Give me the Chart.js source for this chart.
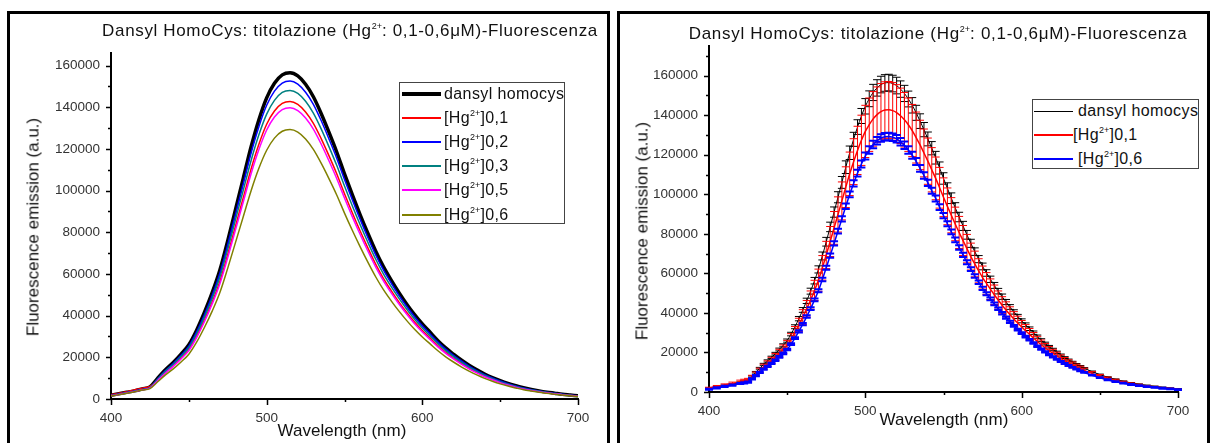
<!DOCTYPE html>
<html><head><meta charset="utf-8">
<script src="https://cdn.jsdelivr.net/npm/chart.js@4.4.1/dist/chart.umd.min.js"></script>
<style>
html,body{margin:0;padding:0;background:#fff;width:1210px;height:443px;overflow:hidden;position:relative;font-family:'Liberation Sans',Arial,sans-serif;}
canvas{position:absolute;left:0;top:0;}
.frame{position:absolute;border:3px solid #000;box-sizing:border-box;}
.t{position:absolute;white-space:nowrap;color:#111;line-height:1;}
.sup{font-size:9px;position:relative;top:-0.75em;letter-spacing:0;}
.leg{position:absolute;border:1px solid #444;background:#fff;box-sizing:border-box;}
.row{position:absolute;white-space:nowrap;font-size:16px;letter-spacing:0.4px;line-height:20px;height:20px;color:#111;}
.sample{position:absolute;}
</style></head>
<body>
<div class="frame" style="left:7px;top:11px;width:603px;height:445px;"></div>
<div class="frame" style="left:617px;top:11px;width:593px;height:445px;"></div>
<canvas id="c1" width="1210" height="443"></canvas>
<canvas id="c2" width="1210" height="443"></canvas>
<div id="overlay"></div>
<script>
// ---------- DATA: left panel (5 nm) ----------
const wavelengths = [400,405,410,415,420,425,430,435,440,445,450,455,460,465,470,475,480,485,490,495,500,505,510,515,520,525,530,535,540,545,550,555,560,565,570,575,580,585,590,595,600,605,610,615,620,625,630,635,640,645,650,655,660,665,670,675,680,685,690,695,700];
const dansyl = [1800,2500,3200,3900,4800,5800, 10000,14000,17500,21500,26000,33000,41500,51000,62000,76000, 91000,106000,121000,134000,144500,151500,155500,156500,155000,151000, 145000,137000,128000,118500,108000,98000,88500,79500,71000,63500, 57000,51000,45500,40500,36000,32000,28000,24500,21500,18700, 16200,14000,12000,10300,8800, 7500,6400,5400,4600,3900,3300,2800,2300,1900,1500];
const hg01 = [2000,2800,3500,4300,5200,6000, 9100,12750,15950,19600,23700,30100,37850,46500,56550,69300, 83000,96650,110350,122200,131800,138150,141800,142750,141350,137700, 132250,124950,116750,108050,98500,89400,80700,72500,64750,57900, 52000,46500,41500,36950,32850,29200,25550,22350,19600,17050, 14750,12750,10950,9400,8050, 6850,5850,4950,4200,3550,3000,2550,2100,1750,1350];
const hg02 = [1700,2400,3100,3800,4600,5500, 9750,13650,17050,20950,25350,32200,40450,49700,60450,74100, 88700,103350,118000,130650,140900,147700,151600,152600,151100,147200, 141400,133600,124800,115550,105300,95550,86300,77500,69200,61900, 55600,49700,44350,39500,35100,31200,27300,23900,20950,18250, 15800,13650,11700,10050,8600, 7300,6250,5250,4500,3800,3200,2750,2250,1850,1450];
const hg03 = [1600,2300,3000,3700,4500,5400, 9450,13250,16550,20350,24600,31200,39250,48250,58650,71900, 86100,100300,114450,126750,136700,143300,147100,148050,146650,142850, 137150,129600,121100,112100,102150,92700,83700,75200,67150,60050, 53900,48250,43050,38300,34050,30250,26500,23200,20350,17700, 15300,13250,11350,9750,8350, 7100,6050,5100,4350,3700,3100,2650,2200,1800,1400];
const hg05 = [1500,2200,2900,3600,4400,5200, 8900,12500,15650,19200,23200,29450,37050,45550,55350,67850, 81250,94650,108050,119650,129050,135300,138850,139750,138400,134850, 129500,122350,114300,105800,96450,87500,79050,71000,63400,56700, 50900,45550,40650,36150,32150,28550,25000,21900,19200,16700, 14450,12500,10700,9200,7850, 6700,5700,4800,4100,3500,2950,2500,2050,1700,1350];
const hg06 = [1400,2100,2800,3500,4300,5000, 8250,11550,14450,17750,21500,27250,34300,42150,51200,62800, 75150,87550,99950,110700,119350,125150,128450,129250,128050,124750, 119750,113150,105750,97900,89200,80950,73100,65650,58650,52450, 47100,42150,37600,33450,29750,26450,23150,20250,17750,15450, 13400,11550,9900,8500,7250, 6200,5300,4450,3800,3200,2750,2300,1900,1550,1250];

// ---------- DATA: right panel (mean ± error) ----------
const wavelengthsR = [400,405,410,415,
 420,422.5,425,427.5,430,432.5,435,437.5,440,442.5,
 445,447.5,450,452.5,455,457.5,460,462.5,465,467.5,
 470,472.5,475,477.5,480,482.5,485,487.5,490,492.5,
 495,497.5,500,502.5,505,507.5,510,512.5,515,517.5,
 520,522.5,525,527.5,530,532.5,535,537.5,540,542.5,
 545,547.5,550,552.5,555,557.5,560,562.5,565,567.5,
 570,572.5,575,577.5,580,582.5,585,587.5,590,592.5,
 595,597.5,600,602.5,605,607.5,610,612.5,615,617.5,
 620,622.5,625,627.5,630,632.5,635,637.5,640,
 645,650,655,660,665,670,675,680,685,690,695,700];
const dansylR = [1800,2500,3200,3900,
 4800,5300,5800,7800,10000,12000,14000,15700,17500,19400,
 21500,23600,26000,29300,33000,37100,41500,46100,51000,56300,
 62000,68800,76000,83500,91000,98500,106000,113700,121000,127800,
 134000,139600,144500,148300,151500,153800,155500,156300,156500,156000,
 155000,153200,151000,148200,145000,141200,137000,132700,128000,123300,
 118500,113300,108000,103000,98000,93200,88500,84000,79500,75200,
 71000,67200,63500,60200,57000,53900,51000,48200,45500,43000,
 40500,38200,36000,34000,32000,30000,28000,26200,24500,22900,
 21500,20100,18700,17400,16200,15100,14000,13000,12000,
 10300,8800,7500,6400,5400,4600,3900,3300,2800,2300,1900,1500];
const hg01R = [2000,2800,3500,4300,
 5200,5600,6000,7500,9100,10900,12750,14300,15950,17700,
 19600,21600,23700,26800,30100,33900,37850,42100,46500,51400,
 56550,62800,69300,76100,83000,89800,96650,103600,110350,116500,
 122200,127300,131800,135200,138150,140300,141800,142600,142750,142300,
 141350,139700,137700,135200,132250,128700,124950,120900,116750,112400,
 108050,103300,98500,93900,89400,85000,80700,76600,72500,68500,
 64750,61300,57900,54900,52000,49200,46500,43900,41500,39200,
 36950,34850,32850,31000,29200,27350,25550,23900,22350,20900,
 19600,18300,17050,15850,14750,13750,12750,11850,10950,
 9400,8050,6850,5850,4950,4200,3550,3000,2550,2100,1750,1350];
const hg06R = [1400,2100,2800,3500,
 4300,4650,5000,6600,8250,9900,11550,13000,14450,16050,
 17750,19550,21500,24250,27250,30700,34300,38150,42150,46600,
 51200,56900,62800,69000,75150,81400,87550,93900,99950,105500,
 110700,115300,119350,122400,125150,127050,128450,129150,129250,128900,
 128050,126550,124750,122400,119750,116600,113150,109500,105750,101800,
 97900,93500,89200,85050,80950,76950,73100,69350,65650,62100,
 58650,55500,52450,49700,47100,44550,42150,39800,37600,35500,
 33450,31550,29750,28050,26450,24750,23150,21650,20250,18950,
 17750,16550,15450,14400,13400,12450,11550,10700,9900,
 8500,7250,6200,5300,4450,3800,3200,2750,2300,1900,1550,1250];
const errDansylR = [300,300,300,300,
 300,300,300,350,400,450,500,550,600,650,
 700,750,800,900,1000,1100,1200,1350,1500,1650,
 1800,2000,2200,2400,2600,2800,3000,3200,3400,3550,
 3700,3800,3900,4000,4100,4150,4200,4200,4200,4200,
 4200,4150,4100,4000,3900,3800,3700,3600,3500,3350,
 3200,3050,2900,2800,2700,2550,2400,2300,2200,2050,
 1900,1800,1700,1650,1600,1500,1400,1350,1300,1200,
 1100,1050,1000,950,900,850,800,750,700,650,
 600,550,500,475,450,425,400,375,350,
 300,250,200,200,200,200,200,200,200,200,200,200];
const errHg01R = [400,500,600,700,
 800,850,900,950,1000,1150,1300,1450,1600,1800,
 2000,2200,2400,2700,3000,3400,3800,4200,4600,5100,
 5600,6200,6900,7600,8300,8900,9600,10300,11000,11600,
 12200,12700,13200,13500,13800,14000,14200,14300,14300,14200,
 14100,14000,13800,13500,13200,12900,12500,12100,11700,11200,
 10800,10300,9800,9300,8900,8500,8100,7600,7200,6800,
 6500,6100,5800,5500,5200,4900,4600,4300,4100,3900,
 3700,3500,3300,3100,2900,2750,2600,2400,2200,2100,
 2000,1850,1700,1600,1500,1400,1300,1200,1100,
 900,800,700,600,500,400,400,300,300,200,200,100];
const errHg06R = [300,300,300,300,
 300,300,300,300,300,300,300,300,300,350,
 400,400,400,450,500,550,600,650,700,750,
 800,900,1000,1050,1100,1200,1300,1400,1500,1600,
 1700,1750,1800,1850,1900,1900,1900,1900,1900,1900,
 1900,1900,1900,1850,1800,1750,1700,1650,1600,1550,
 1500,1400,1300,1250,1200,1150,1100,1050,1000,950,
 900,850,800,750,700,675,650,625,600,550,
 500,475,450,425,400,375,350,325,300,300,
 300,275,250,225,200,200,200,200,200,
 200,200,200,200,200,200,200,200,200,200,200,200];

// ticks
const xTickValues = [400,500,600,700];
const yTickValues = [0,20000,40000,60000,80000,100000,120000,140000,160000];
// texts
const titleHTML = 'Dansyl HomoCys: titolazione (Hg<span class="sup">2+</span>: 0,1-0,6&mu;M)-Fluorescenza';
const xTitle = 'Wavelength (nm)';
const yTitle = 'Fluorescence emission (a.u.)';
const leftNames = ['dansyl homocys','[Hg<span class="sup">2+</span>]0,1','[Hg<span class="sup">2+</span>]0,2','[Hg<span class="sup">2+</span>]0,3','[Hg<span class="sup">2+</span>]0,5','[Hg<span class="sup">2+</span>]0,6'];
const leftColors = ['#000000','#ff0000','#0000ff','#008080','#ff00ff','#808000'];
const rightNames = ['dansyl homocys','[Hg<span class="sup">2+</span>]0,1','[Hg<span class="sup">2+</span>]0,6'];
const rightColors = ['#000000','#ff0000','#0000ff'];

// ---------- HELPERS ----------
const pts = (xs, arr) => xs.map((x,i)=>({x:x,y:arr[i]}));
const tickFont = {family:"'Liberation Sans', Arial, sans-serif", size:13.5};

const ticksPlugin = {
  id:'customTicks',
  afterDraw(chart){
    const {ctx, scales:{x,y}, chartArea:a} = chart;
    ctx.save();
    ctx.strokeStyle='#000'; ctx.lineWidth=1.5;
    ctx.beginPath();
    for(let v=400; v<=700; v+=50){
      const px = Math.round(x.getPixelForValue(v))+0.5;
      const len = (v%100===0)?6:3;
      ctx.moveTo(px, a.bottom); ctx.lineTo(px, a.bottom+len);
    }
    for(let v=0; v<=y.max; v+=10000){
      const py = Math.round(y.getPixelForValue(v))+0.5;
      const len = (v%20000===0)?5:3;
      ctx.moveTo(a.left, py); ctx.lineTo(a.left-len, py);
    }
    ctx.stroke();
    ctx.restore();
  }
};

const errorPlugin = {
  id:'errorBars',
  afterDatasetDraw(chart, args){
    const ds = chart.data.datasets[args.index];
    if(!ds.errors) return;
    const {ctx, scales:{y}} = chart;
    const meta = args.meta;
    ctx.save();
    ctx.strokeStyle = ds.borderColor;
    meta.data.forEach((p,i)=>{
      const v = ds.data[i].y, e = ds.errors[i];
      const yt = y.getPixelForValue(v+e), yb = y.getPixelForValue(v-e);
      ctx.lineWidth = 1;
      ctx.beginPath();
      ctx.moveTo(p.x, yt); ctx.lineTo(p.x, yb);
      ctx.stroke();
      ctx.lineWidth = ds.capWidth || 1;
      ctx.beginPath();
      ctx.moveTo(p.x-4, yt); ctx.lineTo(p.x+4, yt);
      ctx.moveTo(p.x-4, yb); ctx.lineTo(p.x+4, yb);
      ctx.stroke();
    });
    ctx.restore();
  }
};

function makeOptions(pad, ymax){
  return {
    responsive:false, animation:false, devicePixelRatio:1,
    layout:{padding:pad},
    plugins:{legend:{display:false}, title:{display:false}, tooltip:{enabled:false}},
    elements:{point:{radius:0}, line:{cubicInterpolationMode:'monotone'}},
    scales:{
      x:{type:'linear', min:400, max:700,
         afterFit(s){s.height=40;},
         afterBuildTicks(s){s.ticks = xTickValues.map(v=>({value:v}));},
         ticks:{color:'#333', font:tickFont, padding:11, maxRotation:0, autoSkip:false, callback:v=>String(v)},
         grid:{display:false, drawTicks:false}, border:{display:true, color:'#000', width:2}},
      y:{type:'linear', min:0, max:ymax,
         afterFit(s){s.width=100;},
         afterBuildTicks(s){s.ticks = yTickValues.map(v=>({value:v}));},
         ticks:{color:'#333', font:tickFont, padding:11, autoSkip:false, callback:v=>String(v)},
         grid:{display:false, drawTicks:false}, border:{display:true, color:'#000', width:2}}
    }
  };
}

// ---------- LEFT CHART ----------
const leftSeries = [dansyl,hg01,hg02,hg03,hg05,hg06];
new Chart(document.getElementById('c1'), {
  type:'line',
  data:{datasets: leftSeries.map((s,i)=>({
    label: leftNames[i], data: pts(wavelengths, s), borderColor: leftColors[i],
    borderWidth: i===0?3.5:1.5, order: 6-i, fill:false
  }))},
  options: makeOptions({left:11, right:632, top:53, bottom:4}, 166000),
  plugins:[ticksPlugin]
});

// ---------- RIGHT CHART ----------
const rightSeries = [dansylR,hg01R,hg06R];
const rightErr = [errDansylR,errHg01R,errHg06R];
new Chart(document.getElementById('c2'), {
  type:'line',
  data:{datasets: rightSeries.map((s,i)=>({
    label: rightNames[i], data: pts(wavelengthsR, s), borderColor: rightColors[i],
    borderWidth: i===0?1:1.5, order: 3-i, fill:false,
    errors: rightErr[i], capWidth: i===2?2:1
  }))},
  options: makeOptions({left:609, right:32, top:46, bottom:11}, 175000),
  plugins:[ticksPlugin, errorPlugin]
});

// ---------- TEXT OVERLAYS ----------
const ov = document.getElementById('overlay');
function addText(html, cx, cy, size, rotate, ls){
  const d = document.createElement('div');
  d.className='t'; d.innerHTML=html;
  d.style.fontSize=size+'px';
  if(ls) d.style.letterSpacing=ls+'px';
  d.style.left=cx+'px'; d.style.top=cy+'px';
  d.style.transform='translate(-50%,-50%)'+(rotate?' rotate(-90deg)':'');
  ov.appendChild(d);
}
addText(titleHTML, 350, 30, 17, false, 0.65);
addText(titleHTML, 938, 33, 17, false, 0.7);
addText(yTitle, 33, 227, 17, true);
addText(yTitle, 642, 231, 17, true);
addText(xTitle, 342, 430, 17);
addText(xTitle, 944, 419, 17);

function addLegend(box, names, colors, widths, rowCenters, lineX, textX){
  const b = document.createElement('div');
  b.className='leg';
  b.style.left=box[0]+'px'; b.style.top=box[1]+'px'; b.style.width=box[2]+'px'; b.style.height=box[3]+'px';
  names.forEach((n,i)=>{
    const s = document.createElement('div');
    s.className='sample';
    s.style.left=lineX[0]+'px'; s.style.width=(lineX[1]-lineX[0])+'px';
    s.style.height=widths[i]+'px'; s.style.top=(rowCenters[i]-widths[i]/2)+'px';
    s.style.background=colors[i];
    b.appendChild(s);
    const r = document.createElement('div');
    r.className='row'; r.innerHTML=n;
    r.style.left=textX[i]+'px'; r.style.top=(rowCenters[i]-10)+'px';
    b.appendChild(r);
  });
  ov.appendChild(b);
}
addLegend([399,82,166,142], leftNames, leftColors, [4,1.5,1.5,1.5,1.5,1.5],
  [11,35,59,83,107,132], [2,41], [44,44,44,44,44,44]);
addLegend([1032,99,167,70], rightNames, rightColors, [1,1.5,1.5],
  [11,35,59], [1,40], [45,40,45]);
</script>
</body></html>
